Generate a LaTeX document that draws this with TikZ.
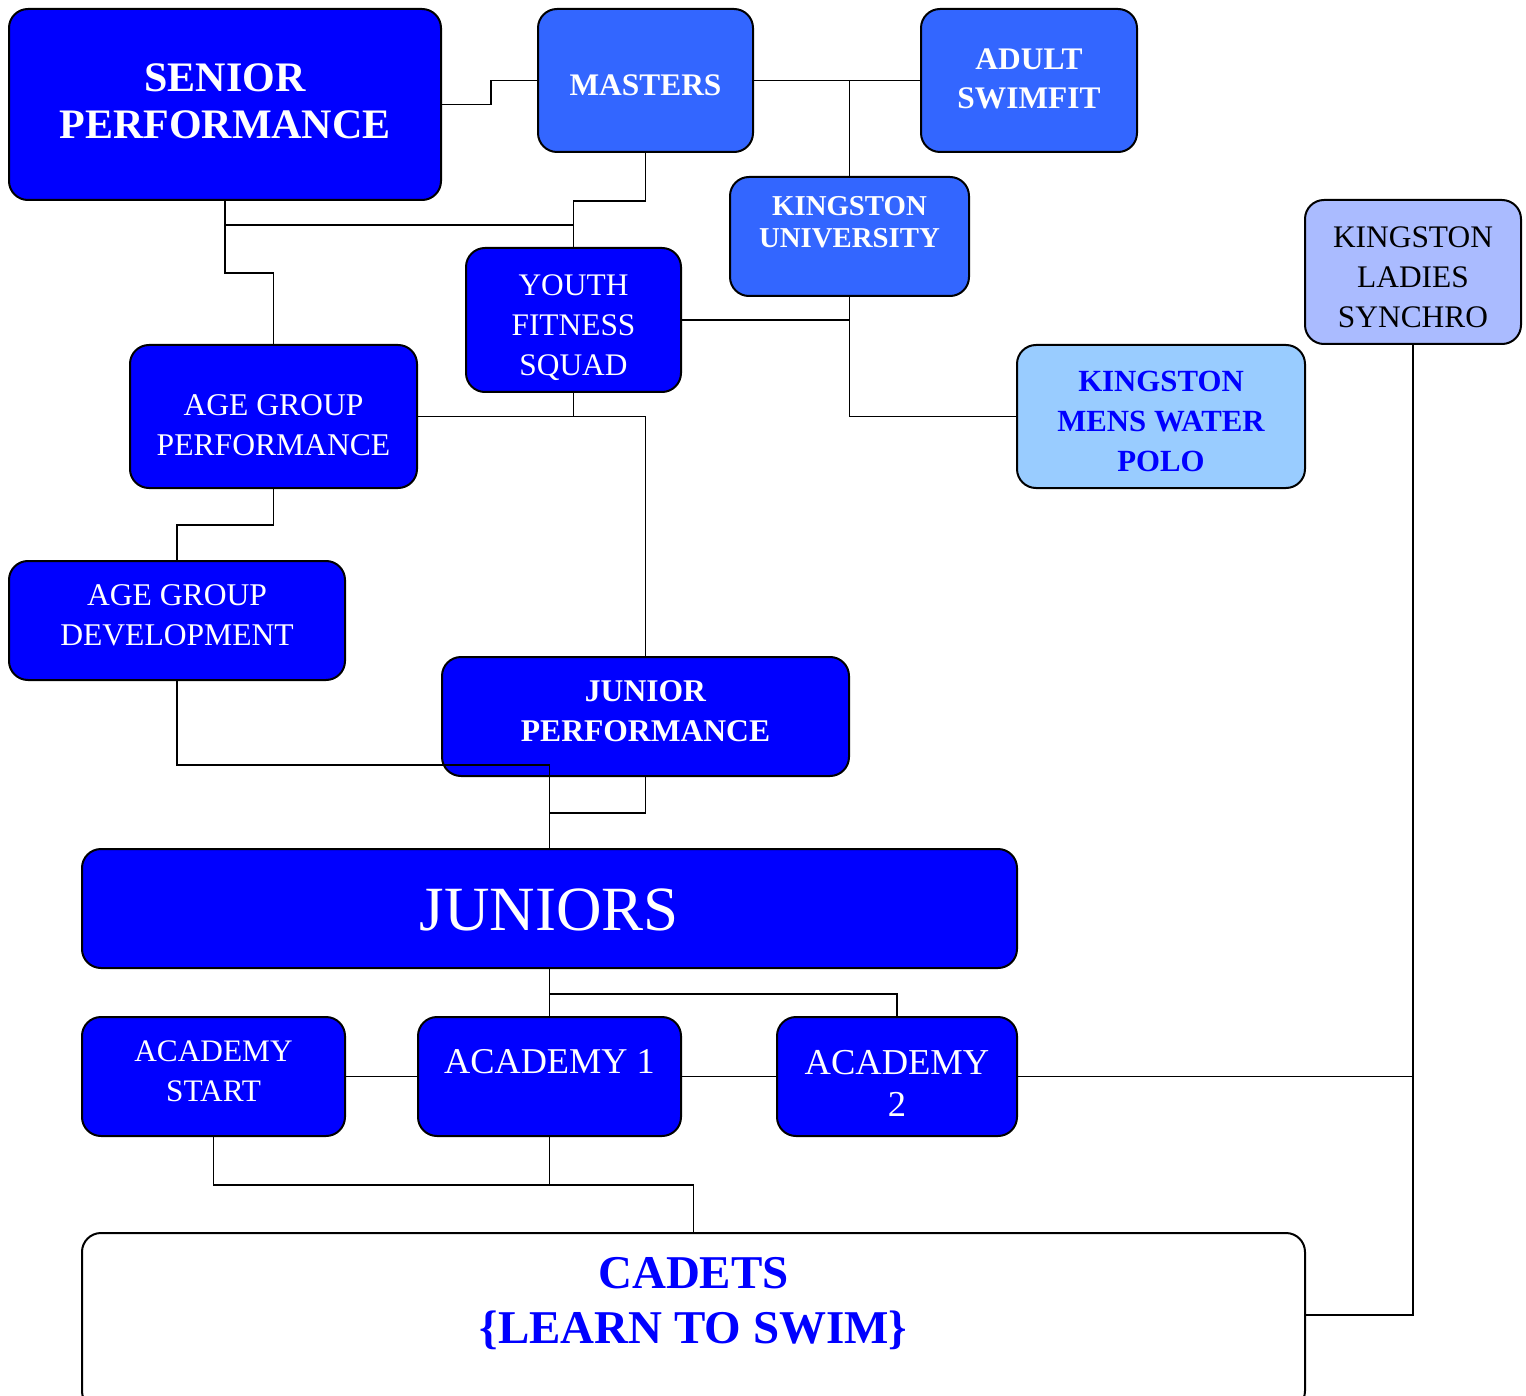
\documentclass[tikz,border=0pt]{standalone}
\usepackage{fontspec}
\setmainfont{Liberation Serif}
\definecolor{cblue}{RGB}{0,0,255}
\definecolor{cmid}{RGB}{51,102,255}
\definecolor{clav}{RGB}{170,187,255}
\definecolor{csky}{RGB}{153,204,255}
\tikzset{
  box/.style={draw=black, line width=2pt, rounded corners=19pt, inner sep=0pt, anchor=center},
  dark/.style={box, fill=cblue},
  mid/.style={box, fill=cmid},
  txt/.style={inner sep=0pt, align=center, anchor=center, text=white},
  conn/.style={draw=black, line width=1.7pt},
}
\newcommand{\fs}[2]{\fontsize{#1}{#2}\selectfont}
\begin{document}
\begin{tikzpicture}[x=1pt,y=-1pt]
\useasboundingbox (0,0) rectangle (1526,1396);
\clip (0,0) rectangle (1526,1396);
% boxes
\node[dark, minimum width=432pt, minimum height=191pt] (sp) at (225,104.5) {};
\node[mid, minimum width=215pt, minimum height=143pt] (ma) at (645.5,80.5) {};
\node[mid, minimum width=216pt, minimum height=143pt] (as) at (1029,80.5) {};
\node[mid, minimum width=239pt, minimum height=119pt] (ku) at (849.5,236.5) {};
\node[box, fill=clav, minimum width=216pt, minimum height=144pt] (ls) at (1413,272) {};
\node[box, fill=csky, minimum width=288pt, minimum height=143pt] (wp) at (1161,416.5) {};
\node[dark, minimum width=215pt, minimum height=144pt] (yf) at (573.5,320) {};
\node[dark, minimum width=287pt, minimum height=143pt] (agp) at (273.5,416.5) {};
\node[dark, minimum width=336pt, minimum height=119pt] (agd) at (177,620.5) {};
\node[dark, minimum width=407pt, minimum height=119pt] (jp) at (645.5,716.5) {};
\node[dark, minimum width=935pt, minimum height=119pt] (jr) at (549.5,908.5) {};
\node[dark, minimum width=263pt, minimum height=119pt] (ast) at (213.5,1076.5) {};
\node[dark, minimum width=263pt, minimum height=119pt] (a1) at (549.5,1076.5) {};
\node[dark, minimum width=240pt, minimum height=119pt] (a2) at (897,1076.5) {};
\node[box, fill=white, minimum width=1223pt, minimum height=177pt] (cd) at (693.5,1321.5) {};
% texts
\node[txt, font=\fs{42}{47}\bfseries] (spt) at (225,101) {SENIOR\\PERFORMANCE};
\node[txt, font=\fs{31.4}{38}\bfseries] (mat) at (645.5,85) {MASTERS};
\node[txt, font=\fs{31.4}{39}\bfseries] (ast0) at (1029,78.5) {ADULT\\SWIMFIT};
\node[txt, font=\fs{28.8}{32}\bfseries] (kut) at (849.5,222) {KINGSTON\\UNIVERSITY};
\node[txt, text=black, font=\fs{31.4}{40}] (lst) at (1413,277) {KINGSTON\\LADIES\\SYNCHRO};
\node[txt, text=cblue, font=\fs{30.8}{40}\bfseries] (wpt) at (1161,421) {KINGSTON\\MENS WATER\\POLO};
\node[txt, font=\fs{31.4}{40}] (yft) at (573.5,328) {YOUTH\\FITNESS\\SQUAD};
\node[txt, font=\fs{31.6}{40}] (agpt) at (273.5,425.5) {AGE GROUP\\PERFORMANCE};
\node[txt, font=\fs{31.6}{40}] (agdt) at (177,615.5) {AGE GROUP\\DEVELOPMENT};
\node[txt, font=\fs{31.6}{40}\bfseries] (jpt) at (645.5,711) {JUNIOR\\PERFORMANCE};
\node[txt, font=\fs{63}{70}] (jrt) at (549.5,910) {JUNIORS};
\node[txt, font=\fs{31.3}{40}] (astt) at (213.5,1071.5) {ACADEMY\\START};
\node[txt, font=\fs{36.3}{42}] (a1t) at (549.5,1062) {ACADEMY 1};
\node[txt, font=\fs{36.5}{42}] (a2t) at (897,1083.5) {ACADEMY\\2};
\node[txt, text=cblue, font=\fs{47}{55}\bfseries] (cdt) at (693.5,1304) {CADETS\\\{LEARN TO SWIM\}};
% connectors
\draw[conn] (sp.east) -- ++(49,0) |- (ma.west);
\draw[conn] (ma.east) -- (as.west);
\draw[conn] (ku.north) -- (ku.north |- ma.east);
\draw[conn] (ma.south) -- ++(0,48) -| (yf.north);
\draw[conn] (sp.south) -- ++(0,24) -| (yf.north);
\draw[conn] (sp.south) -- ++(0,72) -| (agp.north);
\draw[conn] (yf.east) -- (yf.east -| ku.south);
\draw[conn] (ku.south) |- (wp.west);
\draw[conn] (agp.east) -| (jp.north);
\draw[conn] (yf.south) -- (yf.south |- agp.east);
\draw[conn] (agp.south) -- ++(0,36) -| (agd.north);
\draw[conn] (agd.south) -- ++(0,84) -| (jr.north);
\draw[conn] (jp.south) -- ++(0,36) -| (jr.north);
\draw[conn] (jr.south) -- (a1.north);
\draw[conn] (jr.south) -- ++(0,25) -| (a2.north);
\draw[conn] (ast.east) -- (a1.west);
\draw[conn] (a1.east) -- (a2.west);
\draw[conn] (a2.east) -- (a2.east -| ls.south);
\draw[conn] (ls.south) |- ([yshift=-83pt]cd.north east);
\draw[conn] (ast.south) -- ++(0,48) -| (cd.north);
\draw[conn] (a1.south) -- ++(0,48);
\end{tikzpicture}
\end{document}
